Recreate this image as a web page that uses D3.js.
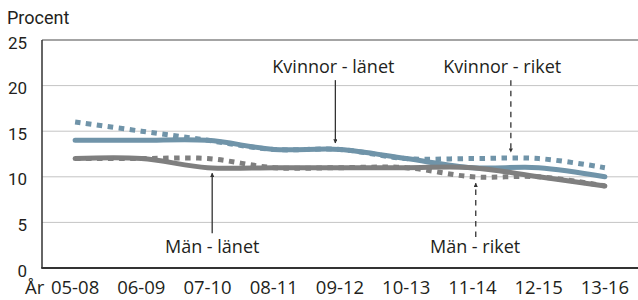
<!DOCTYPE html>
<html>
<head>
<meta charset="utf-8">
<script src="https://cdn.jsdelivr.net/npm/d3@7"></script>
<style>
    body { margin: 0; background: #fff; }
    svg text { fill: #231f20; }
    .annot { font-family: "Open Sans", sans-serif; font-size: 18px; }
    .xtick { font-family: "Open Sans", sans-serif; font-size: 18.5px; }
    .ytick { font-family: Roboto, sans-serif; font-size: 17px; }
    .ylabel { font-family: Roboto, sans-serif; font-size: 18px; }
</style>
</head>
<body>
<div id="chart"></div>
<script>
// data
let periods = ["05-08", "06-09", "07-10", "08-11", "09-12", "10-13", "11-14", "12-15", "13-16"];
let kvinnorLanet = [14, 14, 14, 13, 13, 12, 11, 11, 10];
let manLanet = [12, 12, 11, 11, 11, 11, 11, 10, 9];
let kvinnorRiket = [16, 15, 14, 13, 13, 12, 12, 12, 11];
let manRiket = [12, 12, 12, 11, 11, 11, 10, 10, 9];
let yTicks = [0, 5, 10, 15, 20, 25];

// label, text pos (category index, value), arrow from/to value, dashed?
let annotations = [
    {label: "Kvinnor - länet", i: 3.9, ty: 21.4, ai: 3.93, a1: 20.6, a2: 13.7, dashed: false},
    {label: "Kvinnor - riket", i: 6.45, ty: 21.4, ai: 6.58, a1: 20.6, a2: 12.7, dashed: true},
    {label: "Män - länet", i: 2.07, ty: 1.6, ai: 2.07, a1: 3.8, a2: 10.4, dashed: false},
    {label: "Män - riket", i: 6.04, ty: 1.6, ai: 6.05, a1: 3.4, a2: 9.3, dashed: true}
];

class LineChart {
    constructor() {
        this.width = 638;
        this.height = 300;
        this.margin = {left: 42, right: 0, top: 40, bottom: 32};
        this.blue = "#7094a9";
        this.gray = "#7f7f7f";
    }

    drawChart() {
        let m = this.margin;
        let svg = d3.select("#chart").append("svg")
            .attr("width", this.width)
            .attr("height", this.height);

        let x = d3.scalePoint().domain(periods).range([m.left, this.width - m.right]).padding(0.5);
        // fractional index -> px, for the annotations
        let xi = d3.scaleLinear().domain([0, periods.length - 1]).range([x(periods[0]), x(periods[periods.length - 1])]);
        let y = d3.scaleLinear().domain([0, 25]).range([this.height - m.bottom, m.top]);

        // grid
        svg.append("g").selectAll("line")
            .data(yTicks.filter(d => d > 0 && d < 25))
            .enter().append("line")
            .attr("x1", m.left).attr("x2", this.width)
            .attr("y1", d => y(d)).attr("y2", d => y(d))
            .attr("stroke", "#c4c4c4").attr("stroke-width", 1);

        // frame: top, left, bottom
        svg.append("line").attr("x1", m.left).attr("x2", this.width)
            .attr("y1", y(25)).attr("y2", y(25))
            .attr("stroke", "#4a4a4a").attr("stroke-width", 1.2);
        svg.append("line").attr("x1", m.left).attr("x2", m.left)
            .attr("y1", y(25)).attr("y2", y(0))
            .attr("stroke", "#333").attr("stroke-width", 1.5);
        svg.append("line").attr("x1", m.left - 0.75).attr("x2", this.width)
            .attr("y1", y(0)).attr("y2", y(0))
            .attr("stroke", "#333").attr("stroke-width", 2);

        // y tick labels
        svg.append("g").selectAll("text")
            .data(yTicks)
            .enter().append("text")
            .attr("class", "ytick")
            .attr("x", 27)
            .attr("y", d => y(d) + 8.5)
            .attr("text-anchor", "end")
            .text(d => d);

        svg.append("text").attr("class", "ylabel")
            .attr("x", 7).attr("y", 24)
            .text("Procent");

        // x tick labels
        svg.append("g").selectAll("text")
            .data(periods)
            .enter().append("text")
            .attr("class", "xtick")
            .attr("x", d => x(d))
            .attr("y", 294)
            .attr("text-anchor", "middle")
            .text(d => d);
        svg.append("text").attr("class", "xtick")
            .attr("x", 25).attr("y", 294)
            .text("År");

        let line = d3.line()
            .x((d, i) => x(periods[i]))
            .y(d => y(d))
            .curve(d3.curveCatmullRom.alpha(0.5));

        let series = [
            {values: kvinnorLanet, color: this.blue, dotted: false},
            {values: manLanet, color: this.gray, dotted: false},
            {values: kvinnorRiket, color: this.blue, dotted: true},
            {values: manRiket, color: this.gray, dotted: true}
        ];

        svg.append("g").selectAll("path")
            .data(series)
            .enter().append("path")
            .attr("d", d => line(d.values))
            .attr("fill", "none")
            .attr("stroke", d => d.color)
            .attr("stroke-width", 5)
            .attr("stroke-linecap", d => d.dotted ? "butt" : "round")
            .attr("stroke-dasharray", d => d.dotted ? "5.5,5.5" : null);

        // arrowhead
        svg.append("defs").append("marker")
            .attr("id", "head")
            .attr("viewBox", "0 0 10 10")
            .attr("refX", 9).attr("refY", 5)
            .attr("markerWidth", 3.2).attr("markerHeight", 3.2)
            .attr("markerUnits", "strokeWidth")
            .attr("orient", "auto")
            .append("path").attr("d", "M0,0L10,5L0,10Z").attr("fill", "#333");

        let ann = svg.append("g").selectAll("g")
            .data(annotations)
            .enter().append("g");

        ann.append("line")
            .attr("x1", d => xi(d.ai)).attr("x2", d => xi(d.ai))
            .attr("y1", d => y(d.a1)).attr("y2", d => y(d.a2))
            .attr("stroke", "#333").attr("stroke-width", 1.3)
            .attr("stroke-dasharray", d => d.dashed ? "5.5,5" : null)
            .attr("marker-end", "url(#head)");

        ann.append("text")
            .attr("class", "annot")
            .attr("x", d => xi(d.i))
            .attr("y", d => y(d.ty))
            .attr("text-anchor", "middle")
            .text(d => d.label);
    }
}

let chart = new LineChart();
chart.drawChart();
</script>
</body>
</html>
